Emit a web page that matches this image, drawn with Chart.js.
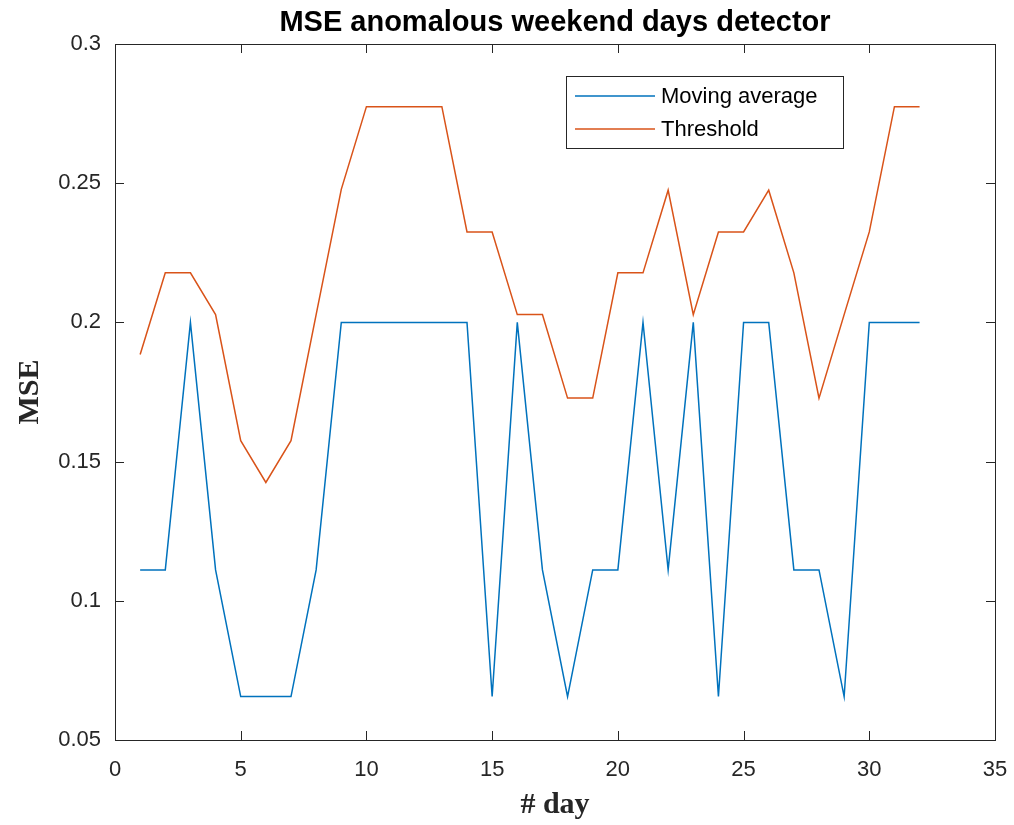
<!DOCTYPE html>
<html>
<head>
<meta charset="utf-8">
<script src="https://cdn.jsdelivr.net/npm/chart.js@4.4.0/dist/chart.umd.min.js"></script>
<style>
  html, body { margin: 0; padding: 0; background: #ffffff; }
  #c { display: block; }
</style>
</head>
<body>
<canvas id="c" width="1014" height="825"></canvas>
<script>
// ---- data ----
const days = [1,2,3,4,5,6,7,8,9,10,11,12,13,14,15,16,17,18,19,20,21,22,23,24,25,26,27,28,29,30,31,32];
const movingAverage = [0.1111,0.1111,0.2,0.1111,0.0656,0.0656,0.0656,0.1111,0.2,0.2,0.2,0.2,0.2,0.2,0.0656,0.2,0.1111,0.0656,0.1111,0.1111,0.2,0.1111,0.2,0.0656,0.2,0.2,0.1111,0.1111,0.0656,0.2,0.2,0.2];
const threshold = [0.1885,0.2178,0.2178,0.2028,0.1575,0.1425,0.1575,0.2028,0.2478,0.2775,0.2775,0.2775,0.2775,0.2325,0.2325,0.2028,0.2028,0.1728,0.1728,0.2178,0.2178,0.2475,0.2028,0.2325,0.2325,0.2475,0.2178,0.1728,0.2028,0.2325,0.2775,0.2775];
const xTicks = [0,5,10,15,20,25,30,35];
const yTicks = [0.05,0.1,0.15,0.2,0.25,0.3];
const yTickLabels = ['0.05','0.1','0.15','0.2','0.25','0.3'];
const seriesNames = ['Moving average','Threshold'];
const titleText = 'MSE anomalous weekend days detector';
const xLabel = '# day';
const yLabel = 'MSE';

const AX = '#262626';
const SANS = '"Liberation Sans", Arial, Helvetica, sans-serif';
const SERIF = '"Liberation Serif", "Times New Roman", serif';
const colors = ['#0072BD', '#D95319'];

const toXY = (vals) => vals.map((v, i) => ({x: days[i], y: v}));

const decor = {
  id: 'decor',
  afterDraw(chart) {
    const ctx = chart.ctx;
    const a = chart.chartArea;
    const xs = chart.scales.x, ys = chart.scales.y;
    ctx.save();
    // frame
    ctx.strokeStyle = AX;
    ctx.lineWidth = 1;
    ctx.strokeRect(Math.round(a.left) + 0.5, Math.round(a.top) + 0.5, Math.round(a.right - a.left), Math.round(a.bottom - a.top));
    // inward ticks
    const tl = 9;
    ctx.beginPath();
    xTicks.forEach(v => {
      const px = Math.round(xs.getPixelForValue(v)) + 0.5;
      ctx.moveTo(px, a.bottom); ctx.lineTo(px, a.bottom - tl);
      ctx.moveTo(px, a.top); ctx.lineTo(px, a.top + tl);
    });
    yTicks.forEach(v => {
      const py = Math.round(ys.getPixelForValue(v)) + 0.5;
      ctx.moveTo(a.left, py); ctx.lineTo(a.left + tl, py);
      ctx.moveTo(a.right, py); ctx.lineTo(a.right - tl, py);
    });
    ctx.stroke();
    // title
    const cx = (a.left + a.right) / 2;
    ctx.fillStyle = '#000000';
    ctx.font = 'bold 29px ' + SANS;
    ctx.textAlign = 'center';
    ctx.textBaseline = 'alphabetic';
    ctx.fillText(titleText, cx, 31);
    // x label
    ctx.font = 'bold 30px ' + SERIF;
    ctx.fillStyle = AX;
    ctx.fillText(xLabel, cx, 813);
    // y label
    ctx.save();
    ctx.translate(38, (a.top + a.bottom) / 2);
    ctx.rotate(-Math.PI / 2);
    ctx.fillText(yLabel, 0, 0);
    ctx.restore();
    // legend
    const lx = 566.5, ly = 76.5, lw = 277, lh = 72;
    ctx.fillStyle = '#ffffff';
    ctx.fillRect(lx, ly, lw, lh);
    ctx.strokeStyle = AX;
    ctx.lineWidth = 1;
    ctx.strokeRect(lx, ly, lw, lh);
    const rows = [96, 129];
    ctx.font = '22px ' + SANS;
    ctx.textAlign = 'left';
    ctx.textBaseline = 'middle';
    rows.forEach((ry, i) => {
      ctx.strokeStyle = colors[i];
      ctx.lineWidth = 1.5;
      ctx.beginPath();
      ctx.moveTo(575, ry); ctx.lineTo(655, ry);
      ctx.stroke();
      ctx.fillStyle = '#000000';
      ctx.fillText(seriesNames[i], 661, ry + 1);
    });
    ctx.restore();
  }
};

new Chart(document.getElementById('c'), {
  type: 'line',
  data: {
    datasets: [
      { label: seriesNames[0], data: toXY(movingAverage), borderColor: colors[0], borderWidth: 1.5, pointRadius: 0, tension: 0, fill: false },
      { label: seriesNames[1], data: toXY(threshold), borderColor: colors[1], borderWidth: 1.5, pointRadius: 0, tension: 0, fill: false }
    ]
  },
  options: {
    responsive: false,
    animation: false,
    devicePixelRatio: 1,
    layout: { padding: { left: 0, right: 19, top: 44, bottom: 0 } },
    plugins: { legend: { display: false }, title: { display: false }, tooltip: { enabled: false } },
    scales: {
      x: {
        type: 'linear', min: 0, max: 35,
        afterBuildTicks(s) { s.ticks = xTicks.map(v => ({ value: v })); },
        ticks: { color: AX, font: { family: SANS, size: 22 }, padding: 17, maxRotation: 0, autoSkip: false, callback: v => String(v) },
        grid: { display: false, drawTicks: false },
        border: { display: false },
        afterFit(s) { s.height = 85; s.paddingLeft = 0; s.paddingRight = 0; }
      },
      y: {
        type: 'linear', min: 0.05, max: 0.3,
        afterBuildTicks(s) { s.ticks = yTicks.map(v => ({ value: v })); },
        ticks: { color: AX, font: { family: SANS, size: 22 }, padding: 14, autoSkip: false,
          callback: (v, i) => yTickLabels[i] },
        grid: { display: false, drawTicks: false },
        border: { display: false },
        afterFit(s) { s.width = 115; s.paddingTop = 0; s.paddingBottom = 0; }
      }
    }
  },
  plugins: [decor]
});
</script>
</body>
</html>
